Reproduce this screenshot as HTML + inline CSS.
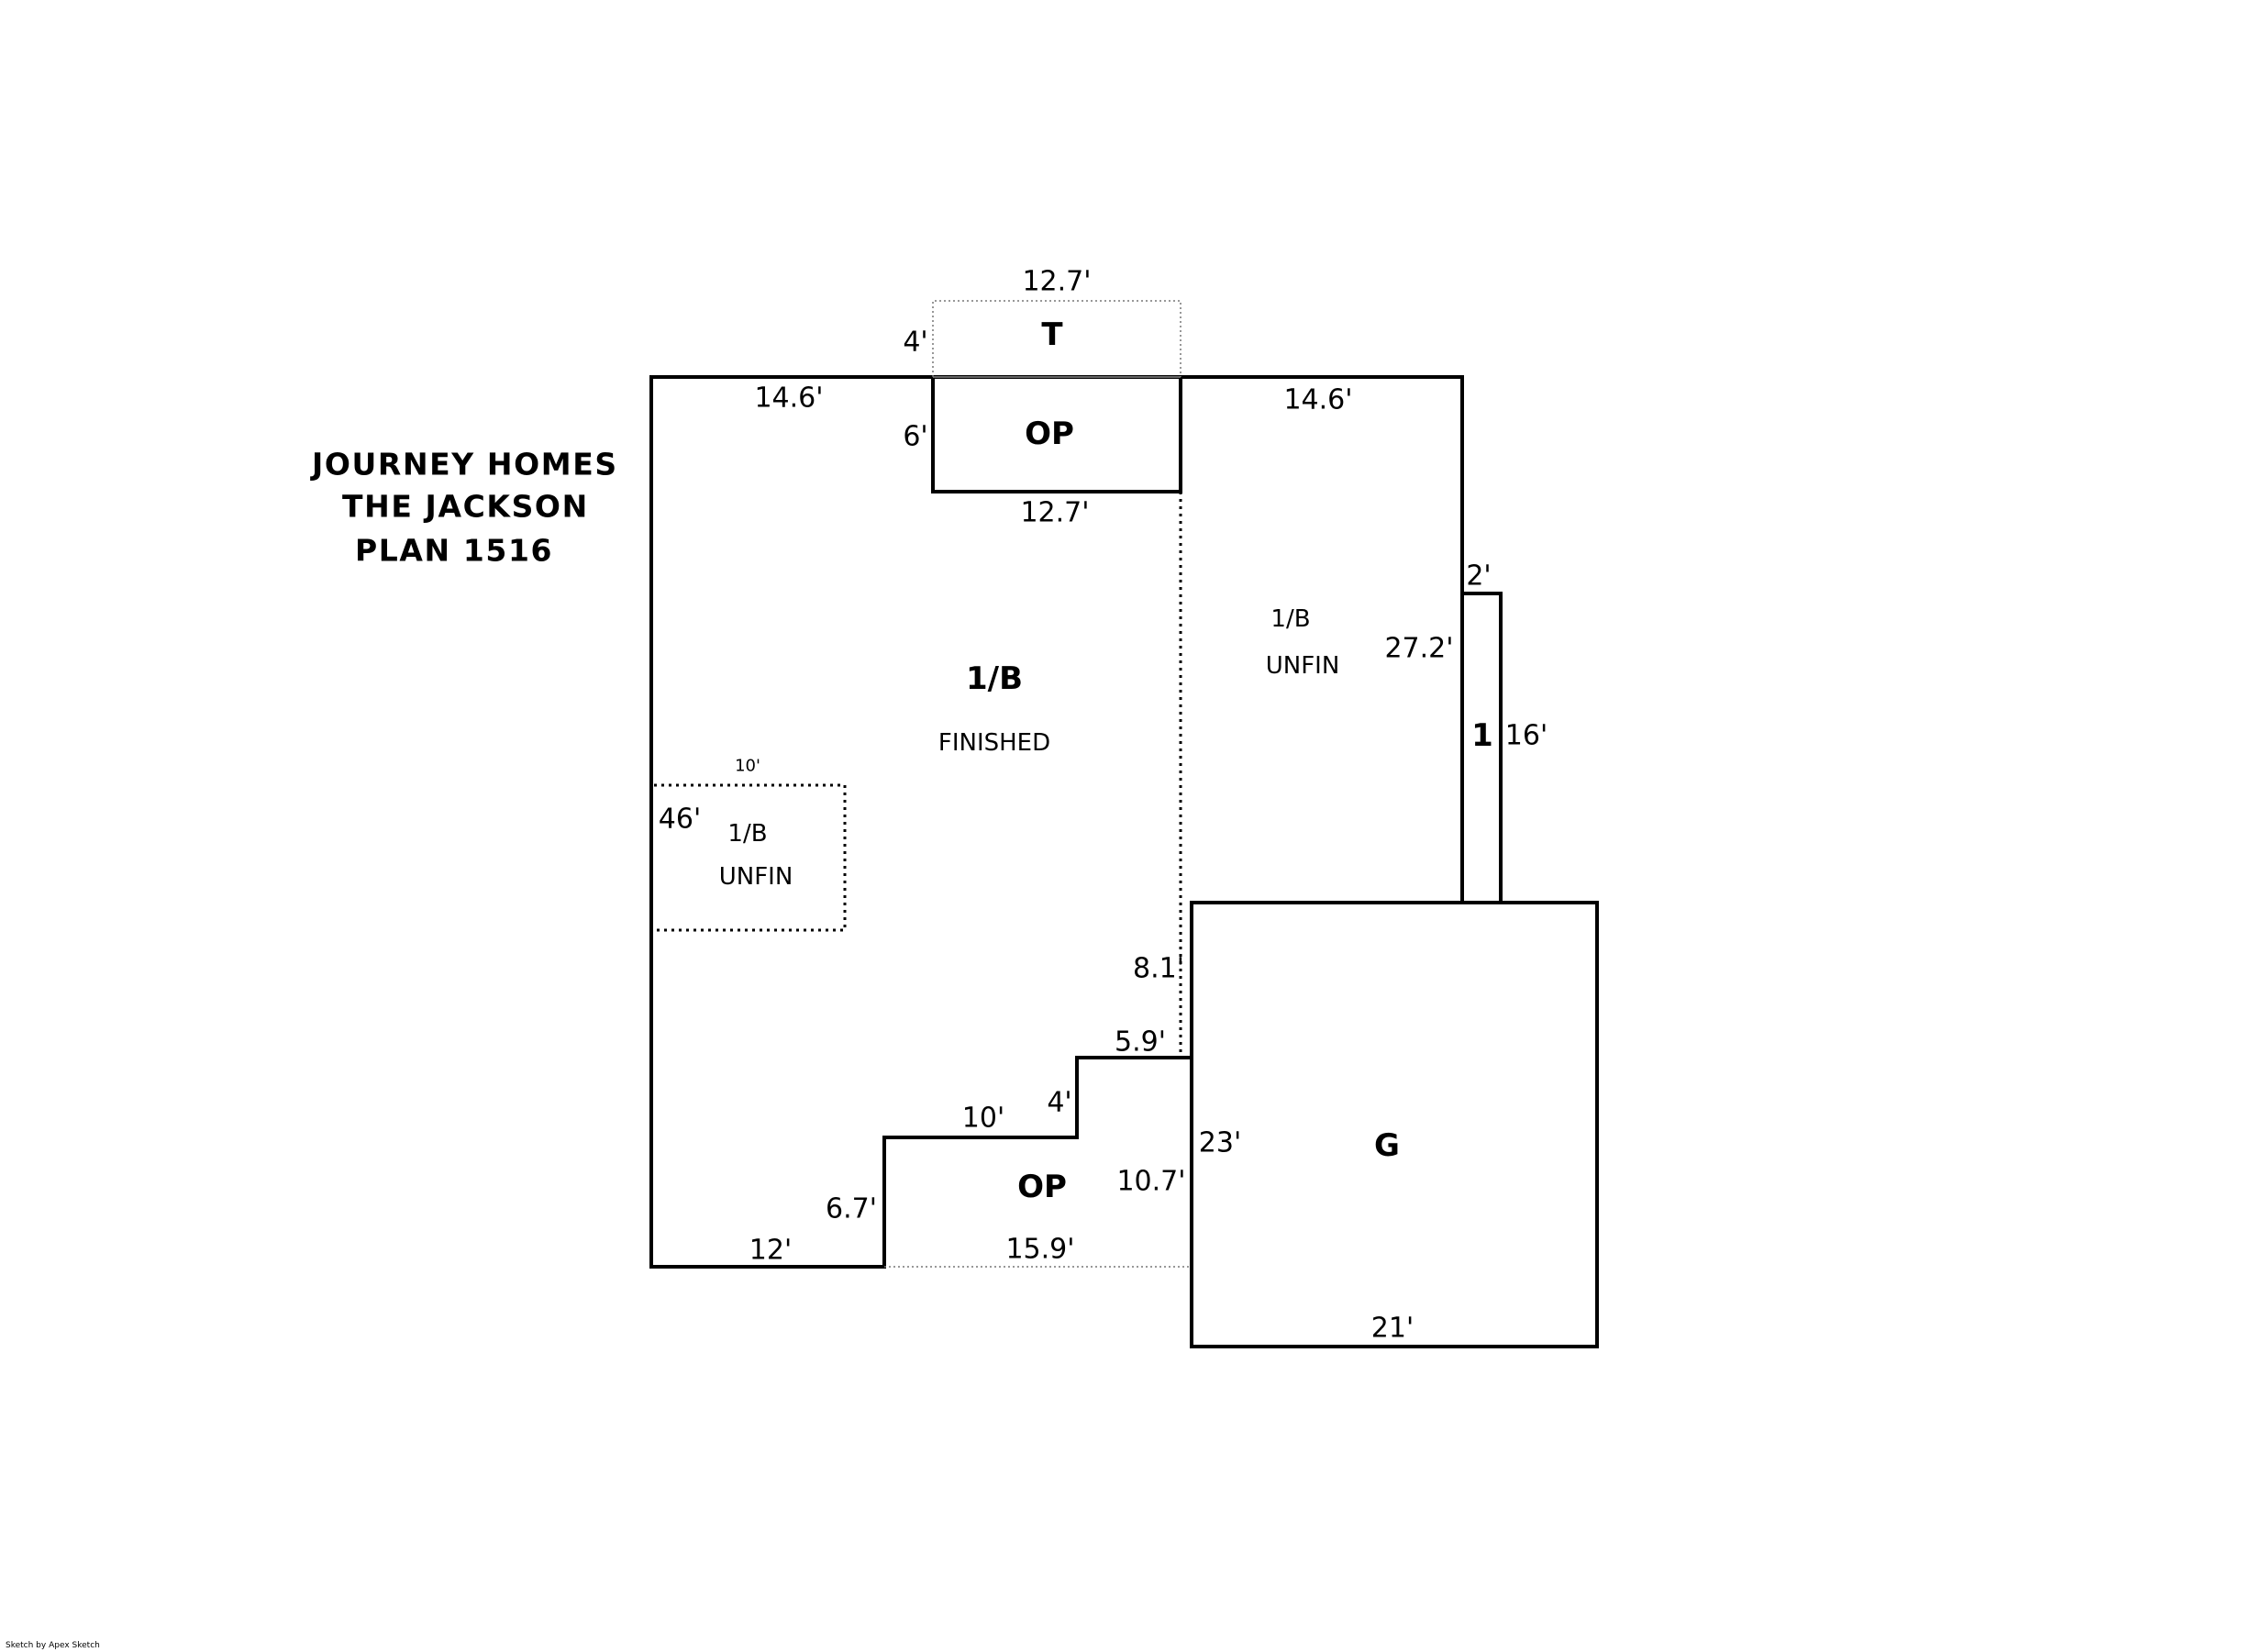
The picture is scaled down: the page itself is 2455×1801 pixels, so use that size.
<!DOCTYPE html>
<html><head><meta charset="utf-8"><style>
html,body{margin:0;padding:0;background:#fff;}
svg{display:block;}
text{font-family:"DejaVu Sans","Liberation Sans",sans-serif;fill:#000;}
</style></head><body>
<svg width="2455" height="1801" viewBox="0 0 2455 1801" xmlns="http://www.w3.org/2000/svg">
<g fill="none" stroke="#000" stroke-width="4" stroke-linecap="square">
<polyline points="1017,411 710,411 710,1381 964,1381 964,1240 1174,1240 1174,1153 1299,1153"/>
<polyline points="1287,411 1594,411 1594,984"/>
<rect x="1017" y="411" width="270" height="125"/>
<polyline points="1594,647 1636,647 1636,984"/>
<rect x="1299" y="984" width="442" height="484"/>
</g>
<g fill="none" stroke="#777" stroke-width="1.5" stroke-dasharray="2,3">
<polyline points="1017,411 1017,328 1287,328 1287,411"/>
<line x1="964" y1="1381" x2="1299" y2="1381"/>
</g>
<line x1="1017" y1="411" x2="1287" y2="411" stroke="#888" stroke-width="1.5"/>
<g fill="none" stroke="#000" stroke-width="3" stroke-dasharray="3,5">
<line x1="1287" y1="536" x2="1287" y2="1153"/>
<polyline points="713,856 921,856 921,1014 713,1014"/>
</g>
<g text-anchor="middle" dominant-baseline="central" font-size="30">
<text x="1152" y="307">12.7'</text>
<text x="998" y="373">4'</text>
<text x="860" y="434">14.6'</text>
<text x="998" y="476">6'</text>
<text x="1437" y="436">14.6'</text>
<text x="1150" y="559">12.7'</text>
<text x="1612" y="628">2'</text>
<text x="1547" y="707">27.2'</text>
<text x="1664" y="802">16'</text>
<text x="741" y="893">46'</text>
<text x="1263" y="1056">8.1'</text>
<text x="1243" y="1136">5.9'</text>
<text x="1155" y="1202">4'</text>
<text x="1072" y="1219">10'</text>
<text x="1330" y="1246">23'</text>
<text x="1255" y="1288">10.7'</text>
<text x="928" y="1318">6.7'</text>
<text x="840" y="1363">12'</text>
<text x="1134" y="1362">15.9'</text>
<text x="1518" y="1448">21'</text>
</g>
<g text-anchor="middle" dominant-baseline="central" font-size="26">
<text x="1407" y="675">1/B</text>
<text x="1420" y="726">UNFIN</text>
<text x="1084" y="810">FINISHED</text>
<text x="815" y="909">1/B</text>
<text x="824" y="956">UNFIN</text>
<text x="815" y="835" font-size="18">10'</text>
</g>
<g text-anchor="middle" dominant-baseline="central" font-size="34" font-weight="bold">
<text x="1147" y="365">T</text>
<text x="1144" y="473">OP</text>
<text x="1084" y="740">1/B</text>
<text x="1616" y="802">1</text>
<text x="1512" y="1249">G</text>
<text x="1136" y="1294">OP</text>
</g>
<g dominant-baseline="central" font-size="33" font-weight="bold" letter-spacing="1.6">
<text x="340" y="506">JOURNEY HOMES</text>
<text x="373" y="552">THE JACKSON</text>
<text x="387" y="600">PLAN 1516</text>
</g>
<text x="6" y="1796" font-size="9">Sketch by Apex Sketch</text>
</svg>
</body></html>
